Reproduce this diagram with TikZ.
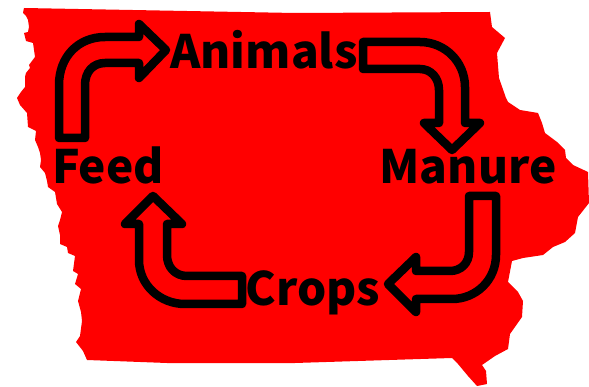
\documentclass[tikz,border=0pt]{standalone}
\usepackage{fontspec}
\setmainfont{Noto Sans CJK JP}
\tikzset{
  statefill/.style = {fill = red, draw = none},
  cyclearrow/.style = {draw = black, line width = 8.5pt, line join = round, line cap = round},
  cyclelabel/.style = {anchor = base, inner sep = 0pt, font = \bfseries\fontsize{46}{46}\selectfont}
}
\begin{document}
\begin{tikzpicture}[x = 1pt, y = -1pt]
\useasboundingbox (0,0) rectangle (589,387);
\fill [statefill] (24,8) -- (23,13) -- (26,16) -- (28,20) -- (29,27) -- (28,32) -- (24,33) -- (26,41) -- (33,43) -- (34,50) -- (35,57) -- (29,65) -- (30,68) -- (26,73) -- (25,77) -- (25,87) -- (21,92) -- (17,98) -- (20,105) -- (27,113) -- (28,127) -- (36,131) -- (35,140) -- (38,147) -- (40,153) -- (41,160) -- (40,167) -- (45,173) -- (47,181) -- (48,187) -- (55,192) -- (57,204) -- (62,212) -- (60,220) -- (58,226) -- (60,235) -- (60,244) -- (67,247) -- (68,253) -- (75,256) -- (73,271) -- (78,274) -- (75,284) -- (81,289) -- (78,301) -- (81,312) -- (82,321) -- (80,336) -- (76,342) -- (83,351) -- (87,360) -- (167,363) -- (295,363) -- (452,358) -- (458,364) -- (468,376) -- (477,386) -- (487,384) -- (486,371) -- (482,365) -- (495,356) -- (508,349) -- (510,334) -- (522,317) -- (523,301) -- (518,292) -- (508,282) -- (512,261) -- (523,258) -- (543,255) -- (553,247) -- (565,242) -- (575,233) -- (578,217) -- (589,203) -- (588,172) -- (573,165) -- (566,158) -- (565,150) -- (557,142) -- (545,133) -- (542,123) -- (538,113) -- (520,110) -- (508,102) -- (506,98) -- (499,78) -- (497,53) -- (505,38) -- (492,27) -- (490,12) -- (295,13) -- cycle;
% feed to animals
\draw [cyclearrow] (59,138) -- (59,85) .. controls (59,57) and (78,37) .. (105,37) -- (139,37) -- (139,24) -- (166,50) -- (139,78) -- (139,63) -- (105,63) .. controls (93,63) and (85,72) .. (85,85) -- (85,138) -- cycle;
% animals to manure
\draw [cyclearrow] (363,42) -- (420,42) .. controls (445,42) and (465,62) .. (465,87) -- (465,123) -- (480,123) -- (452,150) -- (424,123) -- (439,123) -- (439,90) .. controls (439,78) and (431,69) .. (420,69) -- (363,69) -- cycle;
% manure to crops
\draw [cyclearrow] (496,196) -- (496,255) .. controls (496,280) and (476,299) .. (452,299) -- (416,299) -- (416,312) -- (388,284) -- (416,257) -- (416,271) -- (450,271) .. controls (461,271) and (469,263) .. (469,252) -- (469,196) -- cycle;
% crops to feed
\draw [cyclearrow] (242,304) -- (185,304) .. controls (160,304) and (139,285) .. (139,260) -- (139,224) -- (125,224) -- (153,196) -- (182,224) -- (167,224) -- (167,255) .. controls (167,267) and (175,276) .. (187,276) -- (242,276) -- cycle;
\node [cyclelabel] (animals) at (264,69) {Animals};
\node [cyclelabel] (manure) at (468,184) {Manure};
\node [cyclelabel] (crops) at (313,306) {Crops};
\node [cyclelabel] (feed) at (108,184) {Feed};
\end{tikzpicture}
\end{document}
